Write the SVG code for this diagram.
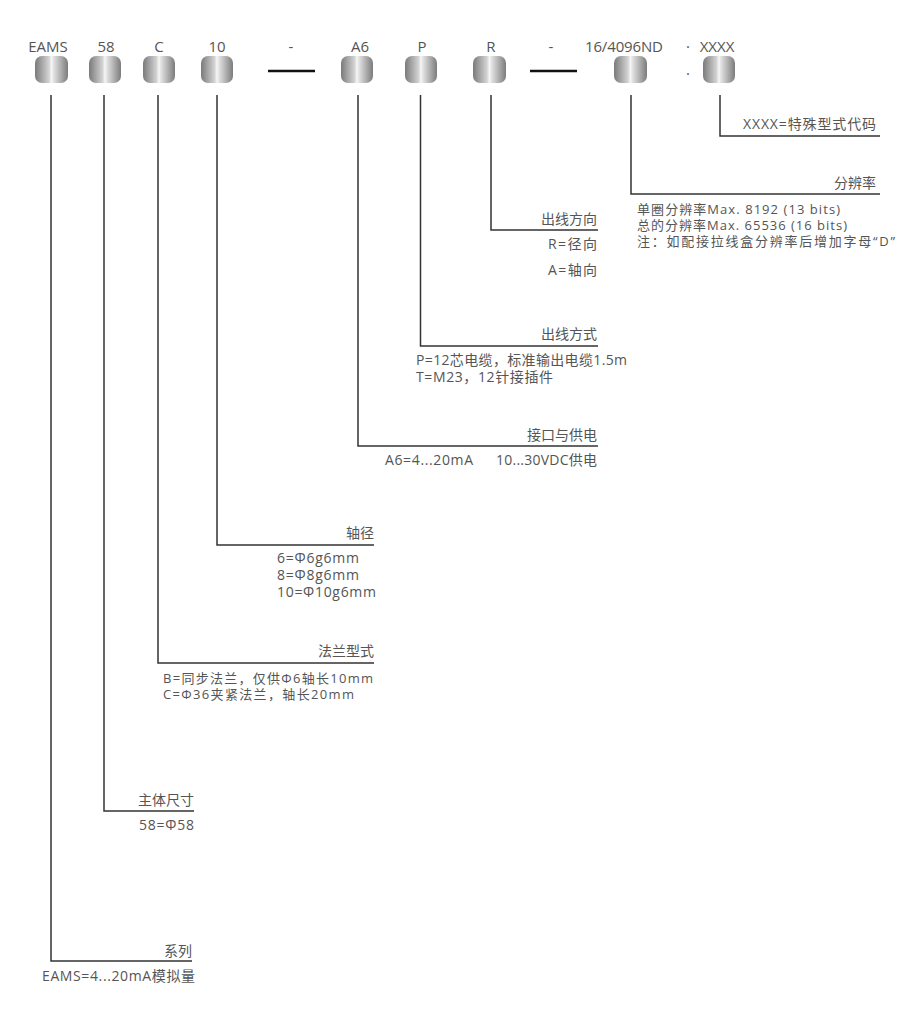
<svg xmlns="http://www.w3.org/2000/svg" width="900" height="1021" viewBox="0 0 900 1021">
<defs>
<linearGradient id="metal" x1="0" y1="0" x2="1" y2="0">
<stop offset="0" stop-color="#7a7a7a"/>
<stop offset="0.42" stop-color="#d2d2d2"/>
<stop offset="0.5" stop-color="#f6f6f6"/>
<stop offset="0.56" stop-color="#e2e2e2"/>
<stop offset="1" stop-color="#7c7c7c"/>
</linearGradient>
<style>
text{font-family:"Open Sans","Noto Sans CJK SC",sans-serif;fill:#555;}
.top{font-size:15px;text-anchor:middle;}
.t{font-size:14px;}
.s{font-size:13px;}
.e{text-anchor:end;}
.btn{fill:url(#metal);}
.ln{stroke:#333;stroke-width:1.5;fill:none;}
.dash{stroke:#111;stroke-width:2.5;}
</style>
</defs>
<rect width="900" height="1021" fill="#fff"/>

<g id="codes">
<g id="c-eams"><text class="top" x="48" y="52">EAMS</text><rect class="btn" x="35" y="56" width="33" height="27" rx="7"/></g>
<g id="c-58"><text class="top" x="106" y="52">58</text><rect class="btn" x="89" y="56" width="32" height="27" rx="7"/></g>
<g id="c-c"><text class="top" x="159" y="52">C</text><rect class="btn" x="143" y="56" width="32" height="27" rx="7"/></g>
<g id="c-10"><text class="top" x="217" y="52">10</text><rect class="btn" x="201" y="56" width="32" height="27" rx="7"/></g>
<g id="c-dash1"><text class="top" x="291" y="52">-</text><line class="dash" x1="268" y1="71" x2="315" y2="71"/></g>
<g id="c-a6"><text class="top" x="360" y="52">A6</text><rect class="btn" x="341" y="56" width="32" height="27" rx="7"/></g>
<g id="c-p"><text class="top" x="422" y="52">P</text><rect class="btn" x="405" y="56" width="32" height="27" rx="7"/></g>
<g id="c-r"><text class="top" x="491" y="52">R</text><rect class="btn" x="473" y="56" width="33" height="27" rx="7"/></g>
<g id="c-dash2"><text class="top" x="551" y="52">-</text><line class="dash" x1="530" y1="71" x2="577" y2="71"/></g>
<g id="c-res"><text class="top" x="624" y="52" textLength="78">16/4096ND</text><rect class="btn" x="614" y="56" width="33" height="27" rx="7"/></g>
<g id="c-dot"><text class="top" x="688" y="52">·</text><text class="top" x="688" y="75">.</text></g>
<g id="c-xxxx"><text class="top" x="717" y="52">XXXX</text><rect class="btn" x="703" y="56" width="32" height="27" rx="7"/></g>
</g>

<g id="connectors">
<polyline class="ln" points="720,95 720,136 880,136"/>
<polyline class="ln" points="631,95 631,194 880,194"/>
<polyline class="ln" points="491,95 491,230 598,230"/>
<polyline class="ln" points="420.5,95 420.5,346 598,346"/>
<polyline class="ln" points="358,95 358,446 598,446"/>
<polyline class="ln" points="217,95 217,545 374,545"/>
<polyline class="ln" points="158,95 158,663 374,663"/>
<polyline class="ln" points="104,95 104,811 194,811"/>
<polyline class="ln" points="51,95 51,961 192,961"/>
</g>

<g id="n-special">
<text class="t e" x="876" y="129" textLength="133">XXXX=特殊型式代码</text>
</g>
<g id="n-resolution">
<text class="t e" x="876" y="188">分辨率</text>
<text class="s" x="637" y="214" textLength="203">单圈分辨率Max. 8192 (13 bits)</text>
<text class="s" x="637" y="230" textLength="210">总的分辨率Max. 65536 (16 bits)</text>
<text class="s" x="637" y="246" textLength="258">注：如配接拉线盒分辨率后增加字母“D”</text>
</g>
<g id="n-direction">
<text class="t e" x="597" y="224">出线方向</text>
<text class="t e" x="597" y="249" textLength="49">R=径向</text>
<text class="t e" x="597" y="275" textLength="49">A=轴向</text>
</g>
<g id="n-outlet">
<text class="t e" x="597" y="339">出线方式</text>
<text class="t" x="416" y="365" textLength="211">P=12芯电缆，标准输出电缆1.5m</text>
<text class="t" x="416" y="382" textLength="137">T=M23，12针接插件</text>
</g>
<g id="n-interface">
<text class="t e" x="597" y="440">接口与供电</text>
<text class="t" x="385" y="465" textLength="88">A6=4...20mA</text>
<text class="t e" x="597" y="465" textLength="101">10...30VDC供电</text>
</g>
<g id="n-shaft">
<text class="t e" x="374" y="538">轴径</text>
<text class="t" x="277" y="563" textLength="82">6=Φ6g6mm</text>
<text class="t" x="277" y="580" textLength="82">8=Φ8g6mm</text>
<text class="t" x="277" y="597" textLength="99">10=Φ10g6mm</text>
</g>
<g id="n-flange">
<text class="t e" x="374" y="656">法兰型式</text>
<text class="s" x="163" y="683" textLength="210">B=同步法兰，仅供Φ6轴长10mm</text>
<text class="s" x="163" y="699" textLength="191">C=Φ36夹紧法兰，轴长20mm</text>
</g>
<g id="n-body">
<text class="t e" x="194" y="805">主体尺寸</text>
<text class="t" x="139" y="830" textLength="55">58=Φ58</text>
</g>
<g id="n-series">
<text class="t e" x="192" y="956">系列</text>
<text class="t" x="42" y="981" textLength="153">EAMS=4...20mA模拟量</text>
</g>
</svg>
